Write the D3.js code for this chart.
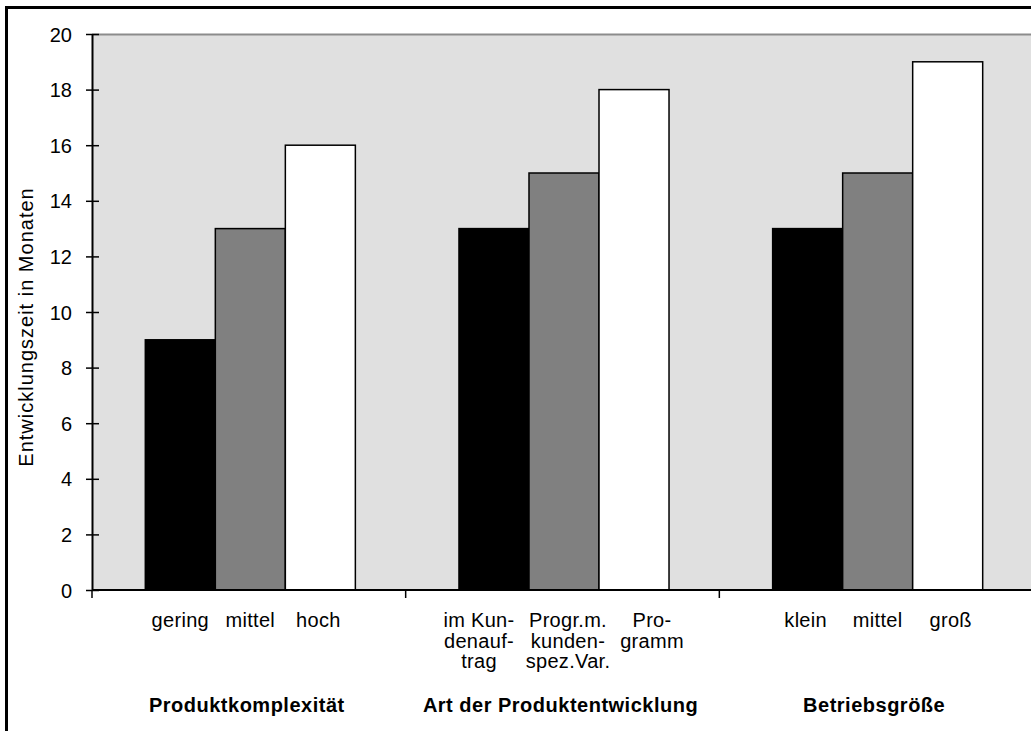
<!DOCTYPE html>
<html>
<head>
<meta charset="utf-8">
<script src="https://cdn.jsdelivr.net/npm/d3@7"></script>
<style>
  body { margin: 0; background: #fff; }
  svg text { font-family: "Liberation Sans", Arial, sans-serif; fill: #000; }
</style>
</head>
<body>
<div id="chart"></div>
<script>
// groups along the x axis
var groups = ['Produktkomplexität', 'Art der Produktentwicklung', 'Betriebsgröße'];
// category labels per group, one entry per bar, lines split
var categoryLabels = [
  [['gering'], ['mittel'], ['hoch']],
  [['im Kun-', 'denauf-', 'trag'], ['Progr.m.', 'kunden-', 'spez.Var.'], ['Pro-', 'gramm']],
  [['klein'], ['mittel'], ['groß']]
];
// bar values (months), low / mid / high per group
var values = [
  [9, 13, 16],
  [13, 15, 18],
  [13, 15, 19]
];
var yTicks = [0, 2, 4, 6, 8, 10, 12, 14, 16, 18, 20];
var barColors = ['#000000', '#808080', '#ffffff'];
// small horizontal nudges of the wrapped labels (px)
var labelShift = [[0, 0, -2], [-15, 4, 18], [-2, 0, 3]];

var W = 1031, H = 731;
var plot = { left: 92, top: 34, right: 1033, bottom: 590 };

var svg = d3.select('#chart').append('svg')
  .attr('width', W).attr('height', H);

// outer frame
svg.append('rect')
  .attr('x', 6.5).attr('y', 7.5)
  .attr('width', 1040).attr('height', 740)
  .attr('fill', 'none').attr('stroke', '#000').attr('stroke-width', 3);

var x0 = d3.scaleBand().domain(d3.range(groups.length))
  .range([plot.left, plot.right]).paddingInner(0).paddingOuter(0);
var x1 = d3.scaleBand().domain(d3.range(3))
  .range([0, x0.bandwidth()]).paddingOuter(0.74).paddingInner(0);
var y = d3.scaleLinear().domain([0, 20]).range([plot.bottom, plot.top]);

// plot area
svg.append('rect')
  .attr('x', plot.left).attr('y', plot.top)
  .attr('width', plot.right - plot.left).attr('height', plot.bottom - plot.top)
  .attr('fill', '#e0e0e0');
svg.append('line')
  .attr('x1', plot.left).attr('x2', plot.right)
  .attr('y1', y(20) + 0.5).attr('y2', y(20) + 0.5)
  .attr('stroke', '#8c8c8c').attr('stroke-width', 2);

// bars
var g = svg.selectAll('g.group').data(values).enter().append('g')
  .attr('class', 'group')
  .attr('transform', function(d, i){ return 'translate(' + (x0(i) + 1.5) + ',0)'; });

g.selectAll('rect').data(function(d){ return d; }).enter().append('rect')
  .attr('x', function(d, j){ return x1(j); })
  .attr('y', function(d){ return y(d); })
  .attr('width', x1.bandwidth())
  .attr('height', function(d){ return y(0) - y(d); })
  .attr('fill', function(d, j){ return barColors[j]; })
  .attr('stroke', '#000').attr('stroke-width', 1.5);

// y axis
var yAxis = d3.axisLeft(y).tickValues(yTicks).tickSize(0).tickPadding(20);
var ya = svg.append('g').attr('transform', 'translate(' + plot.left + ',0)').call(yAxis);
ya.select('.domain').attr('stroke', '#000').attr('stroke-width', 2);
ya.selectAll('.tick text').attr('font-size', 20).attr('dy', '0.35em')
  .style('font-family', '"Liberation Sans", Arial, sans-serif');
ya.selectAll('.tick').append('line')
  .attr('x1', -6).attr('x2', 7).attr('stroke', '#000').attr('stroke-width', 1.5);

// x axis
svg.append('line')
  .attr('x1', plot.left).attr('x2', plot.right)
  .attr('y1', plot.bottom).attr('y2', plot.bottom)
  .attr('stroke', '#000').attr('stroke-width', 2);
svg.selectAll('line.xtick').data(d3.range(groups.length + 1)).enter().append('line')
  .attr('class', 'xtick')
  .attr('x1', function(i){ return plot.left + i * x0.bandwidth(); })
  .attr('x2', function(i){ return plot.left + i * x0.bandwidth(); })
  .attr('y1', plot.bottom).attr('y2', plot.bottom + 8)
  .attr('stroke', '#000').attr('stroke-width', 1.5);

// category labels
categoryLabels.forEach(function(cats, i){
  cats.forEach(function(lines, j){
    var cx = x0(i) + 1.5 + x1(j) + x1.bandwidth() / 2 + labelShift[i][j];
    var t = svg.append('text')
      .attr('text-anchor', 'middle')
      .attr('font-size', 20)
      .attr('letter-spacing', 0.3)
      .attr('x', cx)
      .attr('y', 627);
    lines.forEach(function(line, k){
      t.append('tspan')
        .attr('x', cx)
        .attr('dy', k === 0 ? 0 : 20.5)
        .text(line);
    });
  });
});

// group titles
svg.selectAll('text.gtitle').data(groups).enter().append('text')
  .attr('class', 'gtitle')
  .attr('text-anchor', 'middle')
  .attr('font-size', 20).attr('font-weight', 'bold')
  .attr('letter-spacing', 0.5)
  .attr('x', function(d, i){ return x0(i) + x0.bandwidth() / 2 - 2; })
  .attr('y', 712)
  .text(function(d){ return d; });

// y label
svg.append('text')
  .attr('transform', 'translate(33,' + 327 + ') rotate(-90)')
  .attr('text-anchor', 'middle')
  .attr('font-size', 20)
  .attr('letter-spacing', 1)
  .text('Entwicklungszeit in Monaten');
</script>
</body>
</html>
